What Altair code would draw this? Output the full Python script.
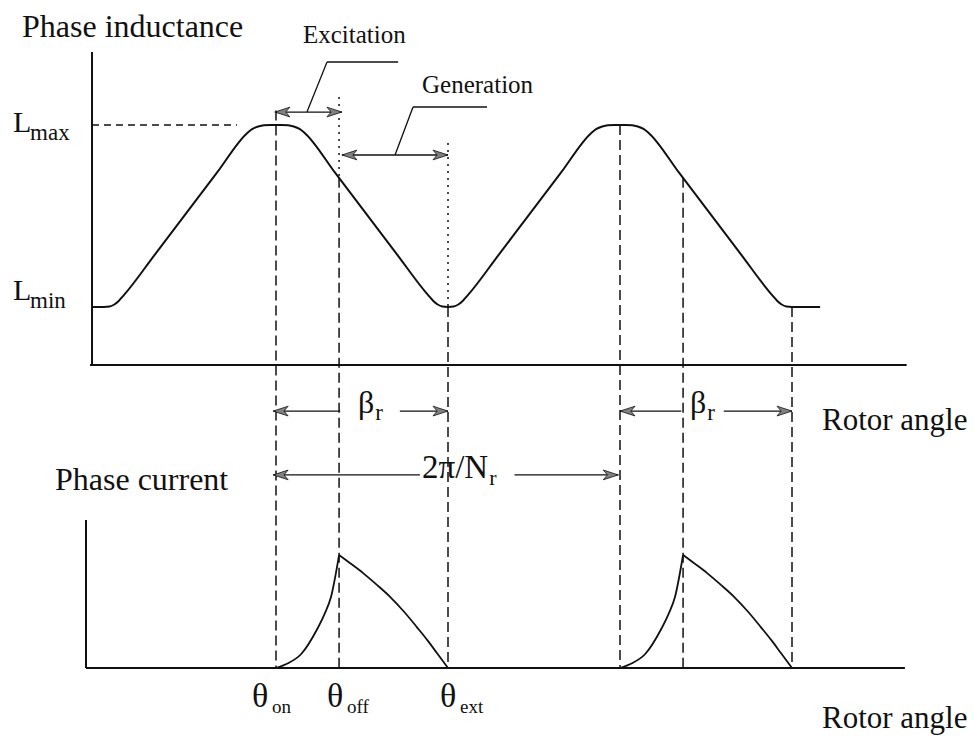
import altair as alt
import pandas as pd

# ---------------- data (rotor angle in deg, inductance / current in arbitrary units) ----------------
ind_theta = [-2.1, 0.0, 1.0, 1.8, 2.6, 3.5, 8.9, 14.25, 19.6, 25.0, 25.9, 26.9, 27.9, 29.0, 30.0,
             31.0, 32.1, 33.1, 34.1, 35.0, 40.4, 45.75, 51.1, 56.5, 57.4, 58.2, 59.0, 60.0,
             61.0, 61.8, 62.6, 63.5, 68.9, 74.25, 79.6, 85.0, 85.9, 86.9, 87.9, 89.0, 90.0,
             91.0, 92.1, 93.1, 94.1, 95.0, 100.4, 105.75, 111.1, 116.5, 117.4, 118.2, 119.0,
             120.0, 124.9]
ind_L = [2.42, 2.42, 2.44, 2.52, 2.68, 2.92, 4.61, 6.30, 7.98, 9.67, 9.84, 9.94, 9.99, 10.0, 10.0,
         10.0, 9.99, 9.94, 9.84, 9.67, 7.98, 6.30, 4.61, 2.92, 2.68, 2.52, 2.44, 2.42,
         2.44, 2.52, 2.68, 2.92, 4.61, 6.30, 7.98, 9.67, 9.84, 9.94, 9.99, 10.0, 10.0,
         10.0, 9.99, 9.94, 9.84, 9.67, 7.98, 6.30, 4.61, 2.92, 2.68, 2.52, 2.44,
         2.42, 2.42]

rise1_theta = [30, 32, 34.4, 37.1, 38.4, 39.6, 41]
rise1_I = [0, 0.04, 0.124, 0.336, 0.47, 0.63, 1.0]
fall1_theta = [41, 43, 45.2, 47.5, 49.9, 52.3, 54.6, 56.5, 58.1, 60]
fall1_I = [1.0, 0.925, 0.84, 0.74, 0.63, 0.50, 0.36, 0.24, 0.13, 0.0]
rise2_theta = [90, 92, 94.4, 97.1, 98.4, 99.6, 101]
rise2_I = [0, 0.04, 0.124, 0.336, 0.47, 0.63, 1.0]
fall2_theta = [101, 103, 105.2, 107.5, 109.9, 112.3, 114.6, 116.5, 118.1, 120]
fall2_I = [1.0, 0.925, 0.84, 0.74, 0.63, 0.50, 0.36, 0.24, 0.13, 0.0]

theta_on = [30, 90]
theta_off = [41, 101]
theta_ext = [60, 120]
L_max, L_min = 10.0, 2.42

# ---------------- scales ----------------
xs = alt.Scale(domain=[-18.1395, 151.744], nice=False, zero=False)
yLs = alt.Scale(domain=[-15.5, 15.2083], nice=False, zero=False)
yIs = alt.Scale(domain=[-0.6106, 5.9115], nice=False, zero=False)
LOW = -12.625  # level of the current axis expressed on the inductance scale

INK = "#111111"
FONT = "Liberation Serif"


def xq(f):
    return alt.X(f"{f}:Q", scale=xs, axis=None)


def yq(f, s):
    return alt.Y(f"{f}:Q", scale=s, axis=None)


def segs(rows, scale, width=1.2, dash=None):
    df = pd.DataFrame(rows, columns=["x", "x2", "y", "y2"])
    mk = dict(color=INK, strokeWidth=width)
    if dash:
        mk["strokeDash"] = dash
    return alt.Chart(df).mark_rule(**mk).encode(
        x=xq("x"), x2="x2:Q", y=yq("y", scale), y2="y2:Q")


RIGHT = "M0,0 L-2,-0.65 L-1.45,0 L-2,0.65 Z"
LEFT = "M0,0 L2,-0.65 L1.45,0 L2,0.65 Z"


def heads(pts, shape, scale):
    df = pd.DataFrame(pts, columns=["x", "y"])
    return alt.Chart(df).mark_point(shape=shape, filled=True, size=225, fill="#808080",
                                     stroke=INK, strokeWidth=0.8, opacity=1).encode(
        x=xq("x"), y=yq("y", scale))


def texts(rows, scale):
    df = pd.DataFrame(rows, columns=["label", "x", "y", "fs"])
    return alt.Chart(df).mark_text(align="left", baseline="alphabetic", font=FONT,
                                   color=INK).encode(
        x=xq("x"), y=yq("y", scale), text="label:N",
        size=alt.Size("fs:Q", scale=None, legend=None))


# ---------------- upper panel (inductance scale) ----------------
ind_df = pd.DataFrame({"theta": ind_theta, "L": ind_L})
ind_line = alt.Chart(ind_df).mark_line(color=INK, strokeWidth=2, interpolate="monotone").encode(
    x=xq("theta"), y=yq("L", yLs))

axes_top = segs([(-2.09, -2.09, 0, 13.04), (-2.44, 140.0, 0, 0)], yLs, width=2)
lmax_dash = segs([(-2.09, 23.2, L_max, L_max)], yLs, width=1.3, dash=[7, 5])

dashed_v = segs([
    (theta_on[0], theta_on[0], 10.6, LOW),
    (theta_off[0], theta_off[0], 7.8, LOW),
    (theta_ext[0], theta_ext[0], L_min, LOW),
    (theta_on[1], theta_on[1], L_max, LOW),
    (theta_off[1], theta_off[1], 7.8, LOW),
    (theta_ext[1], theta_ext[1], L_min, LOW),
], yLs, width=1.5, dash=[10, 5])
dotted_v = segs([
    (theta_off[0], theta_off[0], 11.17, 7.8),
    (theta_ext[0], theta_ext[0], 9.25, L_min),
], yLs, width=1.5, dash=[2, 5])

shafts = segs([
    (29.8, 41.5, 10.54, 10.54),      # excitation
    (41.5, 60.0, 8.75, 8.75),        # generation
    (29.5, 41.2, -1.92, -1.92),      # beta left
    (51.6, 60.0, -1.92, -1.92),
    (90.0, 100.7, -1.92, -1.92),     # beta right
    (108.1, 120.0, -1.92, -1.92),
    (29.5, 55.1, -4.58, -4.58),      # 2pi/Nr
    (71.6, 89.7, -4.58, -4.58),
], yLs, width=1.3)
leaders = segs([
    (35.4, 38.9, 10.54, 12.625),
    (38.9, 51.3, 12.625, 12.625),
    (50.76, 53.9, 8.75, 10.75),
    (53.9, 66.8, 10.75, 10.75),
], yLs, width=1.3)

heads_l = heads([(29.8, 10.54), (41.5, 8.75), (29.5, -1.92), (90.0, -1.92), (29.5, -4.58)], LEFT, yLs)
heads_r = heads([(41.5, 10.54), (60.0, 8.75), (60.0, -1.92), (120.0, -1.92), (89.7, -4.58)], RIGHT, yLs)

top_text = texts([
    ("Phase inductance", -14.3, 13.67, 32),
    ("Excitation", 34.7, 13.42, 25),
    ("Generation", 55.47, 11.33, 25),
    ("L", -15.87, 9.71, 30),
    ("max", -12.9, 9.375, 23),
    ("L", -15.87, 2.71, 30),
    ("min", -12.9, 2.375, 23),
    ("β", 44.3, -2.0, 32),
    ("r", 47.3, -2.29, 23),
    ("β", 102.2, -2.0, 32),
    ("r", 105.2, -2.29, 23),
    ("Rotor angle", 125.23, -2.71, 31),
    ("2π/N", 55.47, -4.71, 33),
    ("r", 67.2, -5.0, 22),
    ("Phase current", -8.55, -5.21, 32),
], yLs)

top = alt.layer(axes_top, lmax_dash, dashed_v, dotted_v, ind_line, shafts, leaders,
                heads_l, heads_r, top_text)

# ---------------- lower panel (current scale) ----------------
cur_df = pd.concat([
    pd.DataFrame({"theta": rise1_theta, "I": rise1_I, "seg": "r1"}),
    pd.DataFrame({"theta": fall1_theta, "I": fall1_I, "seg": "f1"}),
    pd.DataFrame({"theta": rise2_theta, "I": rise2_I, "seg": "r2"}),
    pd.DataFrame({"theta": fall2_theta, "I": fall2_I, "seg": "f2"}),
])
cur_line = alt.Chart(cur_df).mark_line(color=INK, strokeWidth=1.8, interpolate="monotone").encode(
    x=xq("theta"), y=yq("I", yIs), detail="seg:N")

axes_bot = segs([(-3.14, -3.14, 0, 1.31), (-3.14, 139.7, 0, 0)], yIs, width=2)

bot_text = texts([
    ("θ", 25.81, -0.345, 34),
    ("on", 29.3, -0.40, 19),
    ("θ", 38.9, -0.345, 34),
    ("off", 42.4, -0.40, 19),
    ("θ", 58.6, -0.345, 34),
    ("ext", 62.1, -0.40, 19),
    ("Rotor angle", 125.23, -0.531, 31),
], yIs)

bottom = alt.layer(axes_bot, cur_line, bot_text)

chart = alt.layer(top, bottom).resolve_scale(y="independent").properties(
    width=974, height=737, padding=0, background="white",
    autosize=alt.AutoSizeParams(type="none"),
).configure_view(stroke=None)

chart.save("out.html", embed_options={"renderer": "svg", "actions": False})
